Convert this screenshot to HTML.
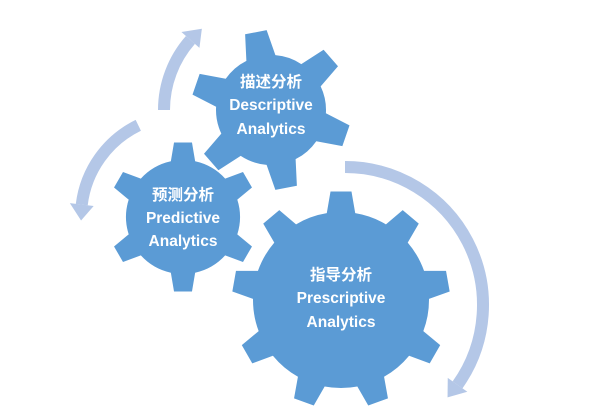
<!DOCTYPE html>
<html><head><meta charset="utf-8"><style>
html,body{margin:0;padding:0;background:#fff;}
svg{display:block}
text{font-family:"Liberation Sans","Noto Sans CJK SC",sans-serif;font-weight:bold;fill:#fff;font-size:15.5px;text-anchor:middle}
</style></head><body>
<svg id="s" width="603" height="418" viewBox="0 0 603 418">
<g id="g"></g>
<text x="271" y="87">描述分析</text>
<text x="271" y="110">Descriptive</text>
<text x="271" y="134">Analytics</text>
<text x="183" y="200">预测分析</text>
<text x="183" y="223">Predictive</text>
<text x="183" y="246">Analytics</text>
<text x="341" y="280">指导分析</text>
<text x="341" y="303">Prescriptive</text>
<text x="341" y="327">Analytics</text>
</svg>
<script>
var g=document.getElementById('g'),NS='http://www.w3.org/2000/svg';
function P(a,r,cx,cy){var t=(a-90)*Math.PI/180;return [cx+r*Math.cos(t),cy+r*Math.sin(t)];}
function gear(cx,cy,rb,ro,n,rot,tw){
 var d='',step=360/n,k=180/Math.PI;
 for(var i=0;i<n;i++){var c=rot+i*step;
  var hb=tw*0.68/rb*k,ho=tw*0.5/ro*k;
  var pts=[P(c-hb,rb,cx,cy),P(c-ho,ro,cx,cy),P(c+ho,ro,cx,cy),P(c+hb,rb,cx,cy)];
  var nx=P(c+step-hb,rb,cx,cy);
  d+=(i?'L':'M')+pts[0]+'L'+pts[1]+'L'+pts[2]+'L'+pts[3]+'A'+rb+','+rb+' 0 0 1 '+nx;
 }
 var p=document.createElementNS(NS,'path');p.setAttribute('d',d+'Z');p.setAttribute('fill','#5b9bd5');g.appendChild(p);
}
function arrow(cx,cy,r,a1,a2,w){
 var cw=a2>a1,s=P(a1,r,cx,cy),hl=16,da=(hl/r)*180/Math.PI,ae=cw?a2-da:a2+da,e=P(ae,r,cx,cy);
 var large=Math.abs(ae-a1)>180?1:0;
 var p=document.createElementNS(NS,'path');
 p.setAttribute('d','M'+s+'A'+r+','+r+' 0 '+large+' '+(cw?1:0)+' '+e);
 p.setAttribute('fill','none');p.setAttribute('stroke','#b4c7e7');p.setAttribute('stroke-width',w);g.appendChild(p);
 var tip=P(a2,r,cx,cy),b1=P(ae,r-w,cx,cy),b2=P(ae,r+w,cx,cy);
 var t=document.createElementNS(NS,'polygon');t.setAttribute('points',tip+' '+b1+' '+b2);t.setAttribute('fill','#b4c7e7');g.appendChild(t);
}
arrow(270,110,106,270,320,12);
arrow(183,217,102,-26,-92,12);
arrow(345,305,138,0,132,12);
gear(271,110,55,80,6,-11,22);
gear(183,217,57,75,6,0,18);
gear(341,300,88,109,9,0,21);
</script>
</body></html>
